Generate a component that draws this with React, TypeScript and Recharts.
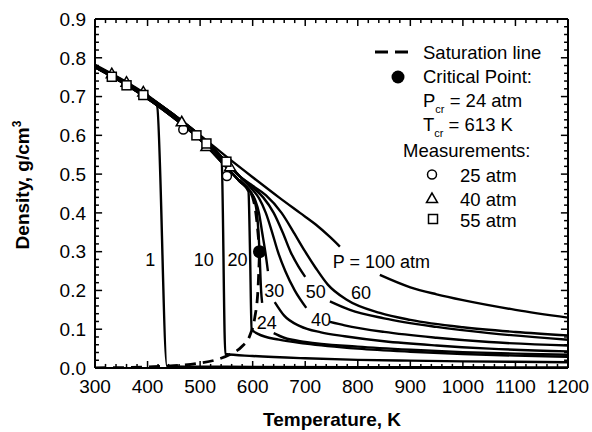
import React from "react";
import { ComposedChart, Line, Scatter, XAxis, YAxis, ReferenceLine } from "recharts";

type Pt = [number, number];

const FONT = '"Liberation Sans", Arial, Helvetica, sans-serif';

// temperature (K) vs density (g/cm3); liquid parts shared by the isobars
const liquidLow: Pt[] = [[300, 0.776], [350, 0.738], [400, 0.695], [450, 0.645], [500, 0.589], [550, 0.518], [575, 0.482]];
const liquidHigh: Pt[] = [[300, 0.78], [350, 0.743], [400, 0.701], [450, 0.653], [500, 0.599], [550, 0.531], [575, 0.495]];

const p1: Pt[] = [[300, 0.776], [350, 0.738], [400, 0.695], [418, 0.677], [437, 0.004], [500, 0.0035], [600, 0.003], [800, 0.0022], [1000, 0.0018], [1200, 0.0015]];
const p10: Pt[] = [[300, 0.776], [350, 0.738], [400, 0.695], [450, 0.645], [500, 0.589], [541, 0.532], [548, 0.036], [600, 0.031], [700, 0.025], [800, 0.021], [900, 0.019], [1000, 0.017], [1100, 0.016], [1200, 0.015]];
const p20: Pt[] = [...liquidLow, [592, 0.455], [595, 0.3], [598, 0.1], [610, 0.088], [650, 0.073], [700, 0.063], [800, 0.05], [900, 0.042], [1000, 0.036], [1100, 0.032], [1200, 0.029]];
const p24a: Pt[] = [...liquidLow, [600, 0.445], [608, 0.4], [613, 0.3], [616, 0.2], [618, 0.168]];
const p24b: Pt[] = [[640, 0.09], [660, 0.078], [700, 0.067], [800, 0.055], [900, 0.047], [1000, 0.041], [1100, 0.037], [1200, 0.034]];
const p30a: Pt[] = [...liquidLow, [595, 0.456], [605, 0.432], [612, 0.4], [618, 0.35], [624, 0.3], [629, 0.25]];
const p30b: Pt[] = [[642, 0.17], [660, 0.135], [690, 0.108], [730, 0.092], [775, 0.082], [850, 0.069], [950, 0.058], [1050, 0.05], [1200, 0.043]];
const p40a: Pt[] = [...liquidHigh, [598, 0.462], [612, 0.438], [625, 0.4], [637, 0.35], [648, 0.3], [662, 0.25], [680, 0.2], [702, 0.155]];
const p40b: Pt[] = [[747, 0.119], [775, 0.11], [850, 0.093], [950, 0.078], [1050, 0.067], [1200, 0.058]];
const p50a: Pt[] = [...liquidHigh, [600, 0.466], [620, 0.44], [640, 0.4], [657, 0.35], [672, 0.3], [687, 0.262], [700, 0.235]];
const p50b: Pt[] = [[747, 0.172], [785, 0.15], [850, 0.128], [950, 0.106], [1050, 0.09], [1200, 0.073]];
const p60: Pt[] = [...liquidHigh, [600, 0.47], [625, 0.446], [655, 0.4], [678, 0.35], [700, 0.3], [720, 0.258], [743, 0.215], [779, 0.176], [842, 0.142], [900, 0.124], [1000, 0.105], [1100, 0.093], [1200, 0.084]];
const p100a: Pt[] = [[300, 0.782], [350, 0.745], [400, 0.703], [450, 0.652], [500, 0.6], [550, 0.545], [600, 0.492], [650, 0.44], [690, 0.4], [720, 0.37], [747, 0.338], [766, 0.313]];
const p100b: Pt[] = [[842, 0.24], [900, 0.208], [950, 0.19], [1000, 0.175], [1100, 0.15], [1200, 0.13]];

const satVapor: Pt[] = [[300, 0.0005], [350, 0.001], [400, 0.003], [450, 0.006], [500, 0.013], [530, 0.021], [560, 0.037], [580, 0.056], [595, 0.085], [604, 0.13], [610, 0.2], [613, 0.3]];
const satLiquid: Pt[] = [[575, 0.485], [590, 0.463], [600, 0.44], [606, 0.4], [610, 0.35], [613, 0.3]];

const critical: Pt[] = [[613, 0.3]];
const meas25: Pt[] = [[468, 0.615], [551, 0.495]];
const meas40: Pt[] = [[332, 0.759], [360, 0.737], [392, 0.712], [465, 0.635], [512, 0.571], [557, 0.519]];
const meas55: Pt[] = [[332, 0.751], [360, 0.729], [392, 0.704], [493, 0.6], [512, 0.579], [550, 0.532]];

const noteText = ["1", "10", "20", "24", "30", "40", "50", "60", "P = 100 atm"];
const noteT = [405, 507, 571, 627, 641, 730, 720, 806, 845];
const noteRho = [0.278, 0.278, 0.278, 0.117, 0.199, 0.124, 0.195, 0.193, 0.274];

const xMajor = [300, 400, 500, 600, 700, 800, 900, 1000, 1100, 1200];
const yMajor = [0, 0.1, 0.2, 0.3, 0.4, 0.5, 0.6, 0.7, 0.8, 0.9];
const xMinor = Array.from({ length: 46 }, (_, i) => 300 + i * 20);
const yMinor = Array.from({ length: 46 }, (_, i) => +(i * 0.02).toFixed(2));

const isobars = [p1, p10, p20, p24a, p24b, p30a, p30b, p40a, p40b, p50a, p50b, p60, p100a, p100b];

const toRows = (pts: Pt[]) => pts.map(([x, y]) => ({ x, y }));
const notes = noteText.map((label, i) => ({ x: noteT[i], y: noteRho[i], label }));

const tickFont = { fontSize: 19, fill: "#000", fontFamily: FONT };
const frame = { stroke: "#000", strokeWidth: 2 };

// inward tick lengths, in axis units (about 7px major, 4px minor)
const X_MAJ = 13.5, X_MIN = 7.5, Y_MAJ = 0.018, Y_MIN = 0.0105;

const OpenCircle = (p: any) => <circle cx={p.cx} cy={p.cy} r={4.5} fill="#fff" stroke="#000" strokeWidth={1.5} />;
const OpenTriangle = (p: any) => (
  <polygon points={`${p.cx},${p.cy - 5.5} ${p.cx - 5.5},${p.cy + 4} ${p.cx + 5.5},${p.cy + 4}`} fill="#fff" stroke="#000" strokeWidth={1.5} />
);
const OpenSquare = (p: any) => <rect x={p.cx - 4.5} y={p.cy - 4.5} width={9} height={9} fill="#fff" stroke="#000" strokeWidth={1.5} />;
const FilledDot = (p: any) => <circle cx={p.cx} cy={p.cy} r={6.5} fill="#000" />;
const NoteText = (p: any) => (
  <text x={p.cx} y={p.cy} textAnchor="middle" dominantBaseline="central" fontSize={18} fontFamily={FONT} fill="#000">
    {p.payload.label}
  </text>
);

function tickMarks() {
  const out: React.ReactNode[] = [];
  const seg = (key: string, a: { x: number; y: number }, b: { x: number; y: number }) => (
    <ReferenceLine key={key} segment={[a, b]} stroke="#000" strokeWidth={1.5} ifOverflow="visible" />
  );
  xMinor.forEach((t) => {
    const len = xMajor.includes(t) ? Y_MAJ : Y_MIN;
    out.push(seg("b" + t, { x: t, y: 0 }, { x: t, y: len }));
    out.push(seg("t" + t, { x: t, y: 0.9 }, { x: t, y: 0.9 - len }));
  });
  yMinor.forEach((v) => {
    const len = yMajor.some((m) => Math.abs(m - v) < 1e-6) ? X_MAJ : X_MIN;
    out.push(seg("l" + v, { x: 300, y: v }, { x: 300 + len, y: v }));
    out.push(seg("r" + v, { x: 1200, y: v }, { x: 1200 - len, y: v }));
  });
  return out;
}

export default function App() {
  return (
    <div style={{ position: "fixed", left: 0, top: 0, width: 592, height: 432, background: "#fff" }}>
      <ComposedChart width={592} height={432} margin={{ top: 19, right: 24, bottom: 34, left: 35 }}>
        <XAxis
          type="number"
          dataKey="x"
          domain={[300, 1200]}
          ticks={xMajor}
          interval={0}
          allowDataOverflow
          tickLine={false}
          axisLine={frame}
          tick={tickFont}
          tickSize={6}
          tickMargin={6}
          height={30}
        />
        <YAxis
          type="number"
          dataKey="y"
          domain={[0, 0.9]}
          ticks={yMajor}
          interval={0}
          allowDataOverflow
          tickFormatter={(v: number) => v.toFixed(1)}
          tickLine={false}
          axisLine={frame}
          tick={tickFont}
          tickSize={6}
          tickMargin={3}
          width={60}
        />
        <ReferenceLine y={0.9} stroke="#000" strokeWidth={2} ifOverflow="visible" />
        <ReferenceLine x={1200} stroke="#000" strokeWidth={2} ifOverflow="visible" />
        {tickMarks()}

        {isobars.map((pts, i) => (
          <Line
            key={"iso" + i}
            data={toRows(pts)}
            dataKey="y"
            type="monotone"
            stroke="#000"
            strokeWidth={2.4}
            dot={false}
            activeDot={false}
            isAnimationActive={false}
          />
        ))}
        <Line data={toRows(satVapor)} dataKey="y" type="monotone" stroke="#000" strokeWidth={2.8} strokeDasharray="11 7" dot={false} activeDot={false} isAnimationActive={false} />
        <Line data={toRows(satLiquid)} dataKey="y" type="monotone" stroke="#000" strokeWidth={2.8} strokeDasharray="11 7" dot={false} activeDot={false} isAnimationActive={false} />

        <Scatter data={toRows(meas25)} dataKey="y" shape={OpenCircle} isAnimationActive={false} />
        <Scatter data={toRows(meas40)} dataKey="y" shape={OpenTriangle} isAnimationActive={false} />
        <Scatter data={toRows(meas55)} dataKey="y" shape={OpenSquare} isAnimationActive={false} />
        <Scatter data={toRows(critical)} dataKey="y" shape={FilledDot} isAnimationActive={false} />
        <Scatter data={notes} dataKey="y" shape={NoteText} isAnimationActive={false} />
      </ComposedChart>

      <svg width={592} height={432} style={{ position: "absolute", left: 0, top: 0, pointerEvents: "none" }} fontFamily={FONT} fill="#000">
        {/* legend */}
        <line x1={375} x2={388} y1={52} y2={52} stroke="#000" strokeWidth={3} />
        <line x1={395} x2={408} y1={52} y2={52} stroke="#000" strokeWidth={3} />
        <text x={423} y={58.5} fontSize={18.5}>Saturation line</text>
        <circle cx={398} cy={77} r={6.5} fill="#000" />
        <text x={423} y={83} fontSize={18.5}>Critical Point:</text>
        <text x={423} y={107} fontSize={18.5}>
          P<tspan fontSize={11} dy={6}>cr</tspan><tspan dy={-6}> = 24 atm</tspan>
        </text>
        <text x={423} y={131} fontSize={18.5}>
          T<tspan fontSize={11} dy={6}>cr</tspan><tspan dy={-6}> = 613 K</tspan>
        </text>
        <text x={403} y={157} fontSize={18.5}>Measurements:</text>
        <circle cx={432} cy={174.5} r={4.5} fill="#fff" stroke="#000" strokeWidth={1.5} />
        <text x={460} y={181.5} fontSize={18.5}>25 atm</text>
        <polygon points="432,193 426.5,202.5 437.5,202.5" fill="#fff" stroke="#000" strokeWidth={1.5} />
        <text x={460} y={206} fontSize={18.5}>40 atm</text>
        <rect x={428.5} y={214.5} width={9} height={9} fill="#fff" stroke="#000" strokeWidth={1.5} />
        <text x={460} y={227} fontSize={18.5}>55 atm</text>

        {/* axis titles */}
        <text x={332} y={426} fontSize={19} fontWeight="bold" textAnchor="middle">Temperature, K</text>
        <text x={29} y={185} fontSize={19} fontWeight="bold" textAnchor="middle" transform="rotate(-90 29 185)">
          Density, g/cm<tspan fontSize={12} dy={-8}>3</tspan>
        </text>
      </svg>
    </div>
  );
}
